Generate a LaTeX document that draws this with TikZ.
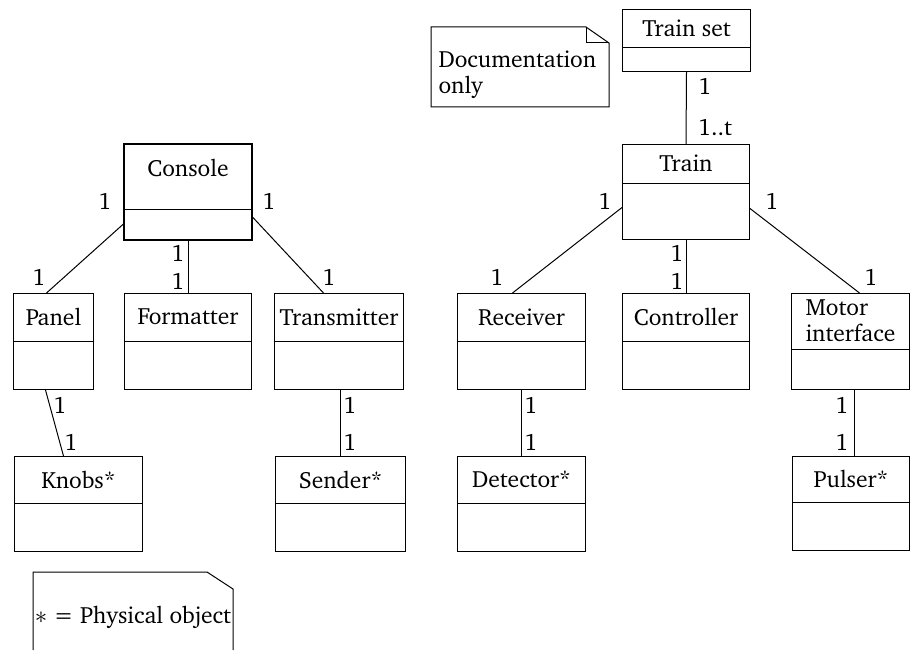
\documentclass[tikz,border=0pt]{standalone}
\usepackage[T1]{fontenc}
\usepackage{charter}
\usepackage{tikz}
\usetikzlibrary{positioning}

% one class box: [name shift] node, x, y, width, height, top part, name
\newcommand{\umlclass}[8][0]{%
  \node[classbox,minimum width=#5pt,minimum height=#6pt] (#2) at (#3,#4) {};
  \draw (#2.north west) ++(0,#7) -- ++(#5,0);
  \path (#2.north) ++(0,#7/2+#1) node[classname] (#2-name) {#8};
}

\begin{document}
\begin{tikzpicture}[x=1pt,y=-1pt,line width=1pt,
  classbox/.style={draw,rectangle,anchor=north west,inner sep=0pt},
  classname/.style={align=left,inner sep=0pt},
  mult/.style={inner sep=0pt},
  font=\fontsize{23.5}{26}\selectfont]
\useasboundingbox (0,0) rectangle (912,650);

% top notes and train set
\draw (431,27) -- (586,27) -- (609,43) -- (609,107) -- (431,107) -- cycle;
\draw (586,27) -- (586,43) -- (609,43);
\node[classname,anchor=west] (docnote) at (438,75) {Documentation\\only};

\umlclass{trainset}{622}{9}{128}{62}{39}{Train set}

% Console part
\umlclass[-9]{console}{124}{144}{127}{95}{65}{Console}
\draw[line width=2pt] (console.north west) rectangle (console.south east);
\umlclass{panel}{13}{293}{80}{96}{48}{Panel}
\umlclass{formatter}{124}{293}{127}{96}{48}{Formatter}
\umlclass{transmitter}{274}{293}{129}{96}{48}{Transmitter}
\umlclass{knobs}{14}{456}{128}{95}{47}{Knobs*}
\umlclass{sender}{275}{456}{130}{95}{47}{Sender*}

\path[draw]
  ([yshift=-31.5pt]console.west) edge ([xshift=-7pt]panel.north)
  (console.south) edge (formatter.north)
  ([yshift=-24.5pt]console.east) edge ([xshift=-15.5pt]transmitter.north)
  ([xshift=-8pt]panel.south) edge ([xshift=-15pt]knobs.north)
  (sender.north |- transmitter.south) edge (sender.north);

\node[mult] (c1) at (105,201) {1};
\node[mult] (c2) at (269,201) {1};
\node[mult] (c3) at (178,253) {1};
\node[mult] (c4) at (178,281) {1};
\node[mult] (c5) at (39,277) {1};
\node[mult] (c6) at (329,277) {1};
\node[mult] (c7) at (60,405) {1};
\node[mult] (c8) at (71,442) {1};
\node[mult] (c9) at (350,405) {1};
\node[mult] (c10) at (350,442) {1};

% Train part
\umlclass{train}{622}{144}{127}{95}{39}{Train}
\umlclass{receiver}{457}{293}{128}{96}{48}{Receiver}
\umlclass{controller}{622}{293}{127}{96}{48}{Controller}
\umlclass{motor}{791}{293}{118}{96}{56}{Motor\\interface}
\umlclass{detector}{457}{456}{128}{95}{47}{Detector*}
\umlclass{pulser}{792}{456}{117}{94}{46}{Pulser*}

\path[draw]
  (trainset.south) edge (train.north)
  ([yshift=-15.5pt]train.west) edge ([xshift=-9pt]receiver.north)
  (train.south) edge (controller.north)
  ([yshift=-16.5pt]train.east) edge ([xshift=9pt]motor.north)
  (receiver.south) edge (detector.north)
  ([xshift=4pt]motor.south) edge ([xshift=3.5pt]pulser.north);

\node[mult] (t1) at (705,86) {1};
\node[mult] (t2) at (715,128) {1..t};
\node[mult] (t3) at (605,201) {1};
\node[mult] (t4) at (772,201) {1};
\node[mult] (t5) at (677,253) {1};
\node[mult] (t6) at (677,281) {1};
\node[mult] (t7) at (497,277) {1};
\node[mult] (t8) at (871,277) {1};
\node[mult] (t9) at (531,405) {1};
\node[mult] (t10) at (531,442) {1};
\node[mult] (t11) at (842,405) {1};
\node[mult] (t12) at (842,442) {1};

% physical object note
\draw (33,650) -- (33,572) -- (207,572) -- (233,589) -- (233,650);
\node[classname] (physnote) at (133,617) {$\ast$ = Physical object};
\end{tikzpicture}
\end{document}
